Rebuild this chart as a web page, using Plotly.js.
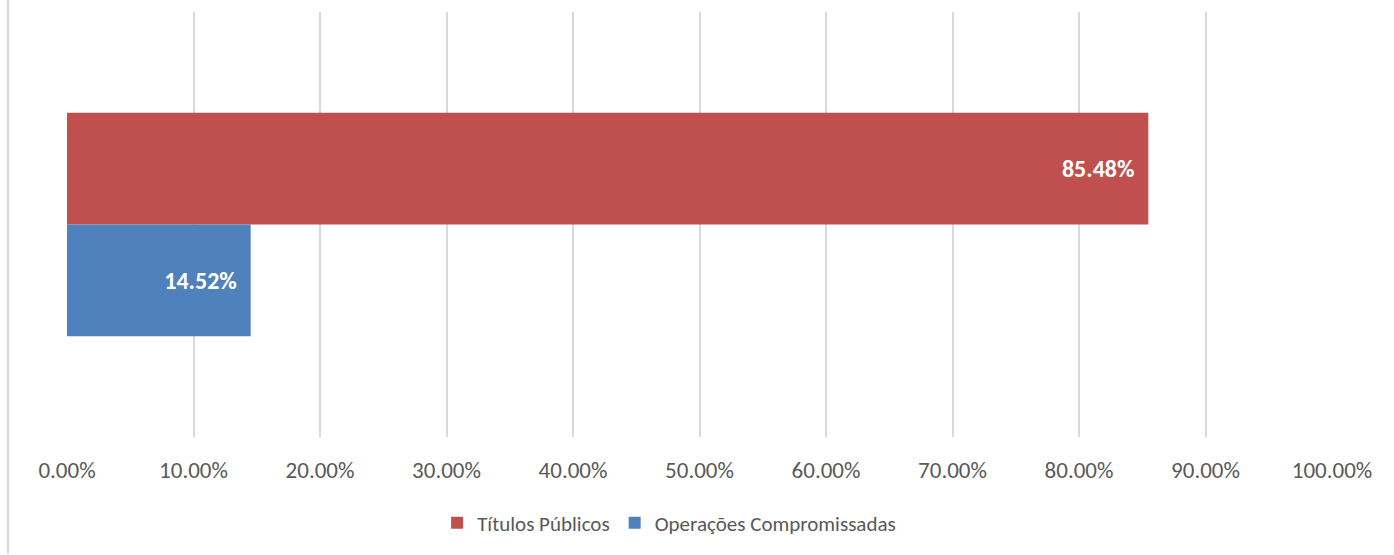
<!DOCTYPE html>
<html>
<head>
<meta charset="utf-8">
<script src="https://cdn.plot.ly/plotly-3.0.1.min.js"></script>
<style>html,body{margin:0;padding:0;background:#fff;}#chart{width:1394px;height:555px;}</style>
</head>
<body>
<div id="chart"></div>
<script>
const categories = [""];
const seriesNames = ["Títulos Públicos", "Operações Compromissadas"];
const titulosPublicos = [0.8548];
const operacoesCompromissadas = [0.1452];
const tickValues = [0, 0.1, 0.2, 0.3, 0.4, 0.5, 0.6, 0.7, 0.8, 0.9, 1.0];
const tickLabels = ["0.00%", "10.00%", "20.00%", "30.00%", "40.00%", "50.00%", "60.00%", "70.00%", "80.00%", "90.00%", "100.00%"];
const colors = ["#C0504D", "#4F81BD"];

const fontFam = "Carlito, Calibri, Lato, 'Noto Sans', sans-serif";

function mk(name, vals, color) {
  return {
    type: "bar", orientation: "h", name: name,
    x: vals, y: categories,
    marker: {color: color, line: {width: 0}},
    text: vals.map(v => (v * 100).toFixed(2) + "%\u00a0\u00a0"),
    textposition: "inside", insidetextanchor: "end",
    textfont: {family: fontFam, size: 24, color: "#ffffff", weight: "bold"},
    hoverinfo: "skip", cliponaxis: false
  };
}

const data = [
  mk(seriesNames[0], titulosPublicos, colors[0]),
  mk(seriesNames[1], operacoesCompromissadas, colors[1])
];

const layout = {
  width: 1394, height: 555,
  margin: {l: 67, r: 62, t: 12, b: 117},
  paper_bgcolor: "#ffffff", plot_bgcolor: "#ffffff",
  barmode: "group", bargap: 0.474, bargroupgap: 0,
  showlegend: true,
  font: {family: fontFam, size: 21, color: "#595959"},
  xaxis: {
    range: [0, 1], tickvals: tickValues, ticktext: tickLabels,
    showgrid: true, gridcolor: "#d9d9d9", gridwidth: 2,
    zeroline: false, showline: false,
    ticks: "outside", ticklen: 12, tickcolor: "rgba(0,0,0,0)",
    tickfont: {family: fontFam, size: 23, color: "#595959"},
    fixedrange: true
  },
  yaxis: {
    autorange: "reversed", showticklabels: false, showgrid: false,
    zeroline: false, showline: false, ticks: "", fixedrange: true
  },
  legend: {
    orientation: "h", x: 0.476, xanchor: "center", y: -0.2, yanchor: "middle",
    font: {family: fontFam, size: 21, color: "#595959"},
    traceorder: "normal", itemclick: false
  },
  shapes: [{
    type: "line", xref: "paper", yref: "paper",
    x0: (8 - 67) / 1265, x1: (8 - 67) / 1265, y0: -117 / 426, y1: 12 / 426 + 1,
    line: {color: "#d9d9d9", width: 2}
  }]
};

Plotly.newPlot("chart", data, layout, {displayModeBar: false, staticPlot: true});
</script>
</body>
</html>
